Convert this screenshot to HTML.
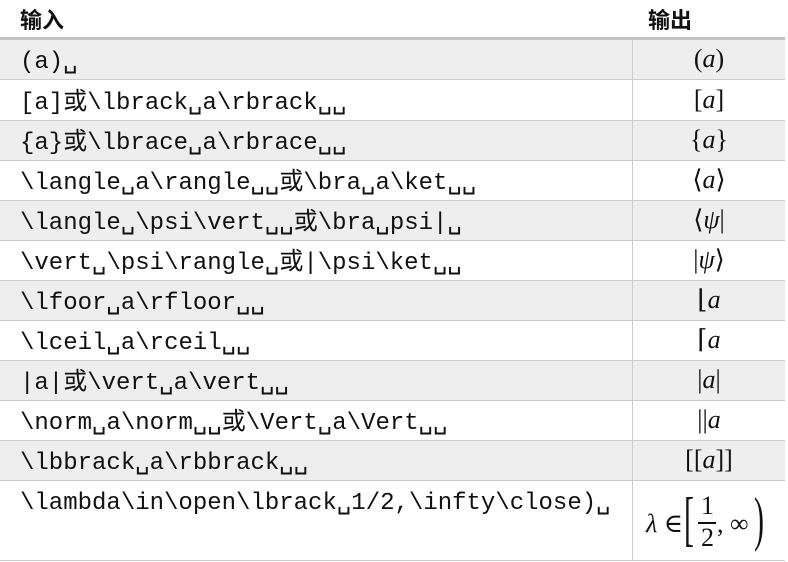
<!DOCTYPE html>
<html><head><meta charset="utf-8"><style>
body{margin:0;width:788px;height:562px;background:#fff;position:relative;overflow:hidden}
.r{position:absolute;left:0;width:785px;height:40px;border-bottom:1px solid #ccc;box-sizing:border-box}
.g{background:#eeeeee}
.t{position:absolute;left:20px;top:8px;height:30px;line-height:30px;font:24px/30px "Liberation Mono","DejaVu Sans Mono","Noto Sans CJK SC",monospace;white-space:pre;color:#111}
.o{position:absolute;left:633px;width:152px;top:3px;line-height:32px;text-align:center;font:italic 26px/32px "Liberation Serif","DejaVu Serif",serif;color:#111}
.u{font-style:normal}
.h{position:absolute;top:3px;font:bold 22px "Liberation Sans","Noto Sans CJK SC",sans-serif;color:#111}
.v{position:absolute;left:632px;top:40px;width:1px;height:520px;background:#ccc}
</style></head><body>
<div class="h" style="left:20px">输入</div>
<div class="h" style="left:648px">输出</div>
<div style="position:absolute;left:0;top:37px;width:785px;height:3px;background:#c4c4c4"></div>
<div class="r g" style="top:40px"><span class="t">(a)␣</span><span class="o"><span class="u">(</span>a<span class="u">)</span></span></div>
<div class="r" style="top:81px"><span class="t">[a]或\lbrack␣a\rbrack␣␣</span><span class="o"><span class="u">[</span>a<span class="u">]</span></span></div>
<div class="r g" style="top:121px"><span class="t">{a}或\lbrace␣a\rbrace␣␣</span><span class="o"><span class="u">{</span>a<span class="u">}</span></span></div>
<div class="r" style="top:161px"><span class="t">\langle␣a\rangle␣␣或\bra␣a\ket␣␣</span><span class="o"><span class="u">⟨</span>a<span class="u">⟩</span></span></div>
<div class="r g" style="top:201px"><span class="t">\langle␣\psi\vert␣␣或\bra␣psi|␣</span><span class="o"><span class="u">⟨</span>ψ<span class="u">|</span></span></div>
<div class="r" style="top:241px"><span class="t">\vert␣\psi\rangle␣或|\psi\ket␣␣</span><span class="o"><span class="u">|</span>ψ<span class="u">⟩</span></span></div>
<div class="r g" style="top:281px"><span class="t">\lfoor␣a\rfloor␣␣</span><span class="o"><span class="u">⌊</span>a</span></div>
<div class="r" style="top:321px"><span class="t">\lceil␣a\rceil␣␣</span><span class="o"><span class="u">⌈</span>a</span></div>
<div class="r g" style="top:361px"><span class="t">|a|或\vert␣a\vert␣␣</span><span class="o"><span class="u">|</span>a<span class="u">|</span></span></div>
<div class="r" style="top:401px"><span class="t">\norm␣a\norm␣␣或\Vert␣a\Vert␣␣</span><span class="o"><span class="u">||</span>a</span></div>
<div class="r g" style="top:441px"><span class="t">\lbbrack␣a\rbbrack␣␣</span><span class="o"><span class="u">[[</span>a<span class="u">]]</span></span></div>
<div class="r" style="top:481px;height:80px"><span class="t">\lambda\in\open\lbrack␣1/2,\infty\close)␣</span>
<div style="position:absolute;left:646px;top:8px;font:26px 'Liberation Serif','DejaVu Serif',serif;color:#111;white-space:nowrap">
<span style="position:absolute;left:0;top:20px"><i>λ</i> ∈</span>
<span style="position:absolute;left:38px;top:-4px;font-size:60px;transform:scaleX(0.5);transform-origin:left">[</span>
<span style="position:absolute;left:55px;top:2px">1</span>
<span style="position:absolute;left:52px;top:33px;width:18px;height:1.5px;background:#111"></span>
<span style="position:absolute;left:55px;top:34px">2</span>
<span style="position:absolute;left:71px;top:20px">, ∞</span>
<span style="position:absolute;left:108px;top:-4px;font-size:60px;transform:scaleX(0.5);transform-origin:left">)</span>
</div></div>
<div class="v"></div>
</body></html>
